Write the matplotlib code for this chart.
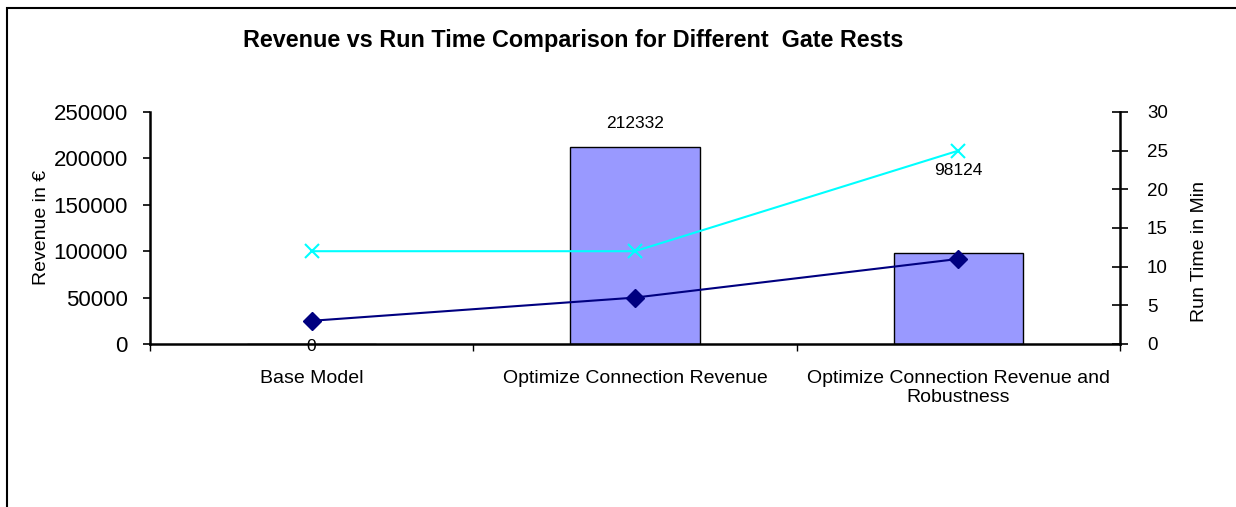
import matplotlib.pyplot as plt
import numpy as np
from matplotlib.patches import Rectangle

plt.rcParams['font.family'] = ['Liberation Sans', 'DejaVu Sans']

categories = ['Base Model', 'Optimize Connection Revenue',
              'Optimize Connection Revenue and\nRobustness']
revenue = [0, 212332, 98124]
run_time_a = [3, 6, 11]      # dark blue diamonds
run_time_b = [12, 12, 25]    # cyan crosses
label_offsets = [-1.5, 17, 59]  # points, how the labels sit in the original


def main():
    fig = plt.figure(figsize=(12.36, 5.07), dpi=100)
    # outer frame (runs off the right/bottom edges)
    fig.patches.append(Rectangle((7 / 1236, -0.1), 1.2, 1 - 8 / 507 + 0.1,
                                 transform=fig.transFigure, fill=False,
                                 edgecolor='black', linewidth=1.5))

    ax = fig.add_axes([150 / 1236, 1 - 344 / 507, 970 / 1236, 232 / 507])
    x = np.arange(len(categories))

    bars = ax.bar(x, revenue, width=0.4, color='#9999FF',
                  edgecolor='black', linewidth=1, zorder=2)
    for b, v, off in zip(bars, revenue, label_offsets):
        ax.annotate(str(v), (b.get_x() + b.get_width() / 2, v),
                    xytext=(0, off), textcoords='offset points',
                    ha='center', va='center', fontsize=12.5, zorder=5)

    ax.set_xlim(-0.5, 2.5)
    ax.set_ylim(0, 250000)
    ax.set_yticks(np.arange(0, 250001, 50000))
    ax.tick_params(axis='y', labelsize=16, direction='out', length=5,
                   width=1.2, pad=11)
    ax.set_xticks(x)
    ax.set_xticklabels(categories, fontsize=14, linespacing=1.15)
    ax.tick_params(axis='x', length=0, pad=19)
    ax.set_xticks(np.arange(-0.5, 3, 1), minor=True)
    ax.tick_params(axis='x', which='minor', direction='out', length=5, width=1)
    ax.spines['top'].set_visible(False)
    ax.spines['right'].set_visible(False)
    ax.spines['left'].set_linewidth(1.8)
    ax.spines['bottom'].set_linewidth(1.8)

    ax2 = ax.twinx()
    ax2.plot(x, run_time_a, color='#000080', marker='D', markersize=9,
             linewidth=1.5, zorder=3)
    ax2.plot(x, run_time_b, color='#00FFFF', marker='x', markersize=10,
             markeredgewidth=1.5, linewidth=1.5, zorder=3)
    ax2.set_ylim(0, 30)
    ax2.set_yticks(np.arange(0, 31, 5))
    ax2.tick_params(axis='y', labelsize=13.5, direction='inout', length=11,
                    width=1.2, pad=14)
    for s in ['top', 'left', 'bottom']:
        ax2.spines[s].set_visible(False)
    ax2.spines['right'].set_linewidth(1.8)

    fig.text(42 / 1236, 1 - 227 / 507, 'Revenue in €', rotation=90,
             ha='center', va='center', fontsize=14)
    fig.text(1200 / 1236, 1 - 251 / 507, 'Run Time in Min', rotation=90,
             ha='center', va='center', fontsize=14)

    fig.text(573 / 1236, 1 - 40 / 507,
             'Revenue vs Run Time Comparison for Different  Gate Rests',
             ha='center', va='center', fontsize=16.8, fontweight='bold')

    plt.savefig('out.png', dpi=100)


if __name__ == "__main__":
    main()
